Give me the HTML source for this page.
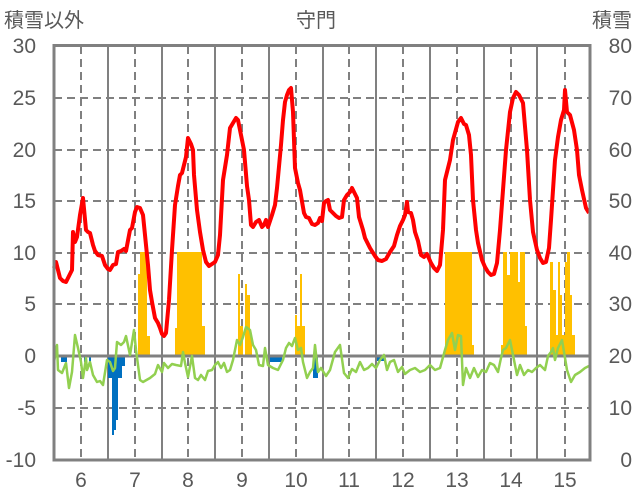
<!DOCTYPE html>
<html><head><meta charset="utf-8"><style>
body{margin:0;background:#fff;}
svg{display:block;font-family:"Liberation Sans","Noto Sans CJK JP",sans-serif;}
</style></head><body>
<svg width="636" height="501" viewBox="0 0 636 501" xmlns="http://www.w3.org/2000/svg">
<g stroke="#808080" stroke-width="2" stroke-dasharray="8,5">
<line x1="54" y1="98" x2="590" y2="98"/><line x1="54" y1="150" x2="590" y2="150"/>
<line x1="54" y1="201" x2="590" y2="201"/><line x1="54" y1="253" x2="590" y2="253"/>
<line x1="54" y1="304" x2="590" y2="304"/><line x1="54" y1="408" x2="590" y2="408"/>
<line x1="81" y1="46" x2="81" y2="460"/><line x1="135" y1="46" x2="135" y2="460"/>
<line x1="188" y1="46" x2="188" y2="460"/><line x1="242" y1="46" x2="242" y2="460"/>
<line x1="296" y1="46" x2="296" y2="460"/><line x1="349" y1="46" x2="349" y2="460"/>
<line x1="403" y1="46" x2="403" y2="460"/><line x1="457" y1="46" x2="457" y2="460"/>
<line x1="511" y1="46" x2="511" y2="460"/><line x1="565" y1="46" x2="565" y2="460"/>
</g>
<g stroke="#808080" stroke-width="2">
<line x1="108" y1="46" x2="108" y2="460"/><line x1="162" y1="46" x2="162" y2="460"/>
<line x1="215" y1="46" x2="215" y2="460"/><line x1="269" y1="46" x2="269" y2="460"/>
<line x1="323" y1="46" x2="323" y2="460"/><line x1="376" y1="46" x2="376" y2="460"/>
<line x1="430" y1="46" x2="430" y2="460"/><line x1="484" y1="46" x2="484" y2="460"/>
<line x1="537" y1="46" x2="537" y2="460"/>
</g>
<g fill="#FFC000">
<rect x="138" y="274" width="2" height="82"/><rect x="140" y="252" width="7" height="104"/><rect x="147" y="336" width="3" height="20"/>
<rect x="175" y="328" width="2" height="28"/><rect x="177" y="252" width="25" height="104"/><rect x="202" y="326" width="3" height="30"/>
<rect x="238" y="274" width="2" height="82"/><rect x="240" y="326" width="3" height="30"/><rect x="245" y="284" width="2" height="72"/><rect x="247" y="295" width="3" height="61"/><rect x="250" y="334" width="2" height="22"/>
<rect x="295" y="315" width="2" height="41"/><rect x="297" y="326" width="3" height="30"/><rect x="300" y="274" width="2" height="82"/><rect x="302" y="326" width="3" height="30"/>
<rect x="445" y="252" width="27" height="104"/><rect x="472" y="345" width="2" height="11"/>
<rect x="501" y="345" width="2" height="11"/><rect x="503" y="252" width="4" height="104"/><rect x="507" y="275" width="3" height="81"/><rect x="510" y="252" width="8" height="104"/><rect x="518" y="282" width="2" height="74"/><rect x="520" y="252" width="5" height="104"/><rect x="525" y="326" width="2" height="30"/>
<rect x="550" y="262" width="3" height="94"/><rect x="553" y="290" width="3" height="66"/><rect x="556" y="335" width="2" height="21"/><rect x="558" y="262" width="2" height="94"/><rect x="560" y="295" width="2" height="61"/><rect x="562" y="335" width="3" height="21"/><rect x="565" y="262" width="2" height="94"/><rect x="567" y="252" width="3" height="104"/><rect x="570" y="295" width="2" height="61"/><rect x="572" y="335" width="3" height="21"/>
</g>
<g fill="#0070C0">
<rect x="61" y="356" width="6" height="6"/><rect x="84" y="356" width="2" height="6"/><rect x="89" y="356" width="2" height="6"/>
<rect x="108" y="356" width="4" height="22"/><rect x="112" y="356" width="2" height="79"/><rect x="114" y="356" width="2" height="74"/><rect x="116" y="356" width="2" height="64"/><rect x="118" y="356" width="4" height="22"/><rect x="122" y="356" width="3" height="10"/>
<rect x="270" y="356" width="12" height="6"/><rect x="313" y="356" width="5" height="22"/><rect x="377" y="356" width="7" height="5"/>
</g>
<line x1="54" y1="356" x2="590" y2="356" stroke="#808080" stroke-width="3"/>
<polyline fill="none" stroke="#92D050" stroke-width="2.5" stroke-linejoin="round" points="54,362 57,345 58,370 62,373 66,363 69,388 72,372 75,335 78,348 81,362 83,378 86,358 87,370 90,362 93,375 97,382 100,381 103,385 107,360 110,362 113,371 115,368 117,342 121,345 124,342 126,336 130,355 134,330 136,350 140,380 143,382 150,378 155,374 158,365 162,372 164,363 168,368 172,364 176,365 181,366 183,352 185,363 188,377 192,356 195,378 198,380 201,375 205,380 208,371 212,370 215,365 218,362 221,368 224,363 227,372 230,370 233,360 237,340 240,345 243,337 246,327 250,330 253,345 256,350 259,365 263,366 265,348 268,365 273,368 278,370 283,360 286,348 289,343 292,346 295,338 298,350 301,348 303,362 307,378 310,372 313,368 315,345 318,372 321,368 326,376 330,370 335,352 340,345 344,373 348,378 352,369 356,372 360,362 364,370 368,368 372,364 376,368 380,360 384,355 387,370 390,362 394,360 398,372 402,367 405,374 410,370 415,368 420,372 425,370 430,365 435,370 440,368 445,350 448,340 452,333 455,350 458,335 461,336 463,385 466,368 470,378 474,368 478,377 482,370 486,372 490,363 494,365 498,372 501,358 503,350 506,348 510,340 513,355 517,375 520,365 524,375 528,370 532,372 536,368 540,365 545,370 548,356 551,352 553,348 555,360 558,348 562,340 564,352 567,370 571,382 575,375 580,372 585,368 589,366"/>
<polyline fill="none" stroke="#FF0000" stroke-width="4" stroke-linejoin="round" points="54,268 56,262 60,278 63,281 66,282 70,274 72,270 73,232 75,242 77,237 80,215 83,198 86,230 88,232 90,233 93,245 95,251 98,255 102,256 105,265 108,269 110,270 113,265 116,264 118,252 121,251 124,249 126,251 130,230 132,228 135,212 137,207 140,208 143,215 145,235 148,265 150,290 152,302 155,318 158,323 160,328 162,334 164,336 166,333 169,300 172,250 175,205 178,186 180,175 182,173 184,165 186,157 188,138 191,144 193,150 194,175 197,210 200,232 203,250 206,262 209,266 212,264 215,262 218,255 220,235 223,180 227,155 230,128 233,123 236,118 238,120 241,135 244,150 247,186 249,200 251,225 253,227 256,222 259,220 262,227 264,225 266,220 268,227 272,215 275,205 277,188 281,145 283,120 285,102 287,95 289,90 291,88 293,112 295,168 298,183 300,190 304,213 306,217 309,218 312,224 315,225 318,223 320,218 322,221 324,203 326,201 328,200 330,210 333,213 336,216 339,218 342,217 344,200 347,195 350,192 352,188 354,192 357,198 359,217 363,230 365,238 370,248 375,256 378,260 382,261 386,259 390,252 394,246 397,235 400,226 403,220 405,215 407,202 408,212 411,213 413,220 415,232 418,241 421,255 424,257 427,254 431,263 434,268 437,271 440,265 443,230 445,180 450,160 453,140 458,122 461,118 464,124 466,125 469,135 471,155 473,200 476,230 478,243 482,260 485,267 488,272 491,275 494,274 497,263 500,230 503,190 506,150 510,112 513,98 516,92 519,95 523,103 527,150 530,200 533,232 537,250 540,258 543,263 546,262 549,248 551,220 555,160 558,137 561,120 564,110 565,90 567,112 570,115 574,130 577,150 579,175 582,190 586,208 589,213"/>
<rect x="54" y="45.5" width="536" height="414.5" fill="none" stroke="#808080" stroke-width="3"/>
<g fill="#595959" font-size="21">
<text x="4" y="27" font-size="20">積雪以外</text>
<text x="316" y="27" font-size="20" text-anchor="middle">守門</text>
<text x="632" y="27" font-size="20" text-anchor="end">積雪</text>
<g text-anchor="end">
<text x="36" y="53">30</text><text x="36" y="105">25</text><text x="36" y="157">20</text><text x="36" y="208">15</text><text x="36" y="260">10</text><text x="36" y="311">5</text><text x="36" y="363">0</text><text x="36" y="415">-5</text><text x="36" y="467">-10</text>
<text x="632" y="53">80</text><text x="632" y="105">70</text><text x="632" y="157">60</text><text x="632" y="208">50</text><text x="632" y="260">40</text><text x="632" y="311">30</text><text x="632" y="363">20</text><text x="632" y="415">10</text><text x="632" y="467">0</text>
</g>
<g text-anchor="middle">
<text x="81" y="487">6</text><text x="135" y="487">7</text><text x="188" y="487">8</text><text x="242" y="487">9</text><text x="296" y="487">10</text><text x="349" y="487">11</text><text x="403" y="487">12</text><text x="457" y="487">13</text><text x="511" y="487">14</text><text x="565" y="487">15</text>
</g>
</g>
</svg>
</body></html>
